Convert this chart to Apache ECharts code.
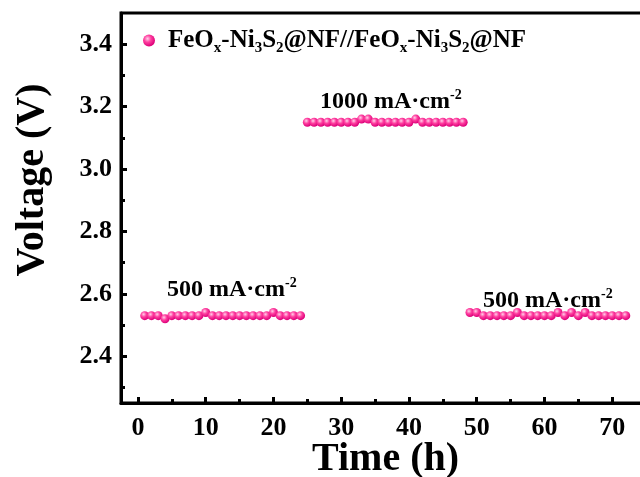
<!DOCTYPE html>
<html>
<head>
<meta charset="utf-8">
<script src="https://cdn.jsdelivr.net/npm/echarts@6/dist/echarts.min.js"></script>
<style>
  html, body { margin: 0; padding: 0; background: #fff; }
  #chart { width: 640px; height: 477px; }
</style>
</head>
<body>
<div id="chart"></div>
<script>
// stability test data
const times500a = [1, 2, 3, 4, 5, 6, 7, 8, 9, 10, 11, 12, 13, 14, 15, 16, 17, 18, 19, 20, 21, 22, 23, 24];
const volts500a = [2.53, 2.53, 2.53, 2.52, 2.53, 2.53, 2.53, 2.53, 2.53, 2.54, 2.53, 2.53, 2.53, 2.53, 2.53, 2.53, 2.53, 2.53, 2.53, 2.54, 2.53, 2.53, 2.53, 2.53];
const times1000 = [25, 26, 27, 28, 29, 30, 31, 32, 33, 34, 35, 36, 37, 38, 39, 40, 41, 42, 43, 44, 45, 46, 47, 48];
const volts1000 = [3.15, 3.15, 3.15, 3.15, 3.15, 3.15, 3.15, 3.15, 3.16, 3.16, 3.15, 3.15, 3.15, 3.15, 3.15, 3.15, 3.16, 3.15, 3.15, 3.15, 3.15, 3.15, 3.15, 3.15];
const times500b = [49, 50, 51, 52, 53, 54, 55, 56, 57, 58, 59, 60, 61, 62, 63, 64, 65, 66, 67, 68, 69, 70, 71, 72];
const volts500b = [2.54, 2.54, 2.53, 2.53, 2.53, 2.53, 2.53, 2.54, 2.53, 2.53, 2.53, 2.53, 2.53, 2.54, 2.53, 2.54, 2.53, 2.54, 2.53, 2.53, 2.53, 2.53, 2.53, 2.53];

const xMajorTicks = [0, 10, 20, 30, 40, 50, 60, 70];
const xMinorTicks = [5, 15, 25, 35, 45, 55, 65, 75];
const yMajorTicks = [2.4, 2.6, 2.8, 3.0, 3.2, 3.4];
const yMinorTicks = [2.3, 2.5, 2.7, 2.9, 3.1, 3.3];

const seriesName = "FeOx-Ni3S2@NF//FeOx-Ni3S2@NF";

const pairs = (ts, vs) => ts.map((t, i) => [t, vs[i]]);
const allPoints = pairs(times500a, volts500a)
  .concat(pairs(times1000, volts1000))
  .concat(pairs(times500b, volts500b));

const serif = "Liberation Serif";
const X_MIN = -2.5, X_MAX = 80, Y_MIN = 2.25, Y_MAX = 3.5;

const chart = echarts.init(document.getElementById("chart"), null, { renderer: "canvas" });

const sphere = new echarts.graphic.RadialGradient(0.38, 0.35, 0.65, [
  { offset: 0, color: "#ffd0e8" },
  { offset: 0.45, color: "#ff3fa0" },
  { offset: 1, color: "#dc0079" },
]);

// axis that only draws ticks (no line, no labels)
const tickAxis = (pos, min, max, values, len) => ({
  type: "value",
  position: pos,
  min: min,
  max: max,
  splitLine: { show: false },
  axisLine: { show: false, onZero: false },
  axisTick: { show: true, inside: true, length: len, customValues: values, lineStyle: { color: "#000", width: 3 } },
  axisLabel: { show: false },
});

const annoRich = {
  a: { fontFamily: serif, fontWeight: "bold", fontSize: 24, fill: "#000" },
  p: { fontFamily: serif, fontWeight: "bold", fontSize: 14, fill: "#000", padding: [0, 0, 14, 0] },
};

const option = {
  animation: false,
  grid: {
    left: 121,
    top: 13,
    width: 559,
    height: 390,
    outerBoundsMode: "none",
    containLabel: false,
    show: true,
    borderColor: "#000",
    borderWidth: 3,
  },
  legend: {
    left: 138,
    top: 23,
    icon: "circle",
    itemWidth: 12,
    itemHeight: 12,
    formatter: () =>
      "{a|FeO}{s|x}{a|-Ni}{s|3}{a|S}{s|2}{a|@NF//FeO}{s|x}{a|-Ni}{s|3}{a|S}{s|2}{a|@NF}",
    textStyle: {
      padding: [0, 0, 0, 8],
      rich: {
        a: { fontFamily: serif, fontWeight: "bold", fontSize: 25, color: "#000" },
        s: { fontFamily: serif, fontWeight: "bold", fontSize: 15, color: "#000", padding: [15, 0, 0, 0] },
      },
    },
    data: [seriesName],
  },
  xAxis: [
    {
      type: "value",
      min: X_MIN,
      max: X_MAX,
      splitLine: { show: false },
      axisLine: { show: true, onZero: false, lineStyle: { color: "#000", width: 3 } },
      axisTick: { show: false },
      axisLabel: {
        customValues: xMajorTicks,
        margin: 12,
        fontFamily: serif,
        fontWeight: "bold",
        fontSize: 26,
        color: "#000",
      },
      name: "Time (h)",
      nameLocation: "middle",
      nameGap: 37,
      nameMoveOverlap: false,
      nameTextStyle: {
        fontFamily: serif,
        fontWeight: "bold",
        fontSize: 40,
        color: "#000",
        padding: [0, 30, 0, 0],
      },
    },
    tickAxis("bottom", X_MIN, X_MAX, xMajorTicks, 6),
    tickAxis("bottom", X_MIN, X_MAX, xMinorTicks, 4),
  ],
  yAxis: [
    {
      type: "value",
      min: Y_MIN,
      max: Y_MAX,
      splitLine: { show: false },
      axisLine: { show: true, onZero: false, lineStyle: { color: "#000", width: 3 } },
      axisTick: { show: false },
      axisLabel: {
        customValues: yMajorTicks,
        formatter: (v) => v.toFixed(1),
        margin: 9,
        fontFamily: serif,
        fontWeight: "bold",
        fontSize: 26,
        color: "#000",
      },
      name: "Voltage (V)",
      nameLocation: "middle",
      nameRotate: 90,
      nameGap: 68,
      nameTextStyle: {
        fontFamily: serif,
        fontWeight: "bold",
        fontSize: 40,
        color: "#000",
        padding: [0, 0, 0, 56],
      },
    },
    tickAxis("left", Y_MIN, Y_MAX, yMajorTicks, 6),
    tickAxis("left", Y_MIN, Y_MAX, yMinorTicks, 4),
  ],
  series: [
    {
      name: seriesName,
      type: "scatter",
      xAxisIndex: 0,
      yAxisIndex: 0,
      symbol: "circle",
      symbolSize: 9,
      itemStyle: { color: sphere, opacity: 1 },
      data: allPoints,
    },
  ],
  graphic: [
    { type: "text", left: 167, top: 276, style: { text: "{a|500 mA·cm}{p|-2}", rich: annoRich } },
    { type: "text", left: 320, top: 88, style: { text: "{a|1000 mA·cm}{p|-2}", rich: annoRich } },
    { type: "text", left: 483, top: 287, style: { text: "{a|500 mA·cm}{p|-2}", rich: annoRich } },
  ],
};

chart.setOption(option);
</script>
</body>
</html>
